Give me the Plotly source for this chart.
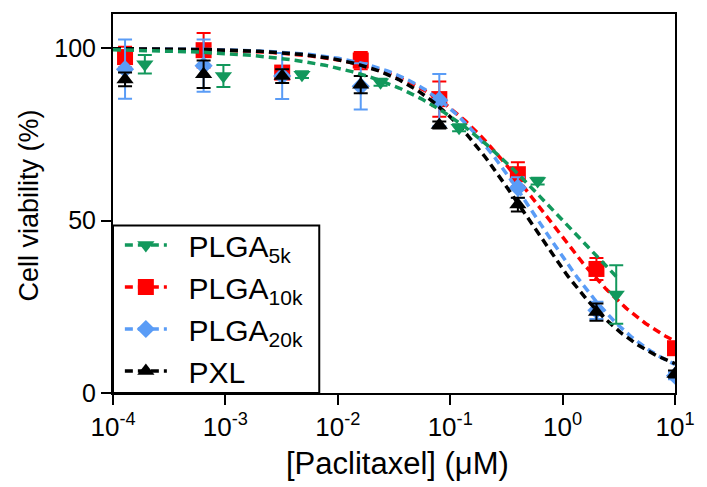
import numpy as np
import plotly.graph_objects as go

# Concentrations (uM): 5-fold serial dilutions
conc = [0.000128, 0.00064, 0.0032, 0.016, 0.08, 0.4, 2, 10]
conc_5k = [0.000192, 0.00096, 0.0048, 0.024, 0.12, 0.6, 3]

# Mean cell viability (%) and SD
viab_5k = [95.4, 92.0, 92.4, 90.2, 77.0, 61.5, 28.6]
sd_5k = [2.7, 3.2, 1.0, 1.0, 1.0, 1.0, 8.5]
viab_10k = [97.5, 99.5, 93.0, 96.5, 85.3, 63.5, 36.0, 13.0]
sd_10k = [3.0, 5.0, 1.5, 2.5, 5.1, 3.5, 3.2, 1.0]
viab_20k = [94.0, 95.0, 92.0, 89.0, 85.0, 59.6, 24.0, 5.0]
sd_20k = [8.6, 7.6, 6.7, 6.7, 7.6, 3.0, 2.5, 1.0]
viab_pxl = [91.0, 92.5, 92.0, 89.5, 77.8, 54.7, 23.5, 5.5]
sd_pxl = [2.0, 4.0, 2.0, 2.5, 1.0, 2.0, 2.5, 1.0]

# Four-parameter logistic fit parameters: top, bottom, IC50 (uM), Hill slope
fit_top = [100, 100, 100, 100]
fit_bottom = [0, 5, 0, 2]
fit_ic50 = [1.0, 0.67, 0.61, 0.483]
fit_hill = [0.61, 0.79, 0.86, 0.87]
fit_xmax = [3, 10, 10, 10]

names = ["PLGA<sub>5k</sub>", "PLGA<sub>10k</sub>", "PLGA<sub>20k</sub>", "PXL"]
colors = ["#12985c", "#ff0000", "#5a9cf6", "#000000"]
symbols = ["triangle-down", "square", "diamond", "triangle-up"]
sizes = [15, 16, 14, 15]

xs = [conc_5k, conc, conc, conc]
ys = [viab_5k, viab_10k, viab_20k, viab_pxl]
errs = [sd_5k, sd_10k, sd_20k, sd_pxl]

tick_vals = [1e-4, 1e-3, 1e-2, 1e-1, 1e0, 1e1]
tick_text = ["10<sup>-4</sup>", "10<sup>-3</sup>", "10<sup>-2</sup>",
             "10<sup>-1</sup>", "10<sup>0</sup>", "10<sup>1</sup>"]

FONT = "Liberation Sans, Arial, sans-serif"
fig = go.Figure()

# drawing order: 10k, 20k, PXL, 5k (5k on top)
order = [1, 2, 3, 0]
for i in order:
    xc = np.logspace(-4, np.log10(fit_xmax[i]), 300)
    yc = fit_bottom[i] + (fit_top[i] - fit_bottom[i]) / (1 + (xc / fit_ic50[i]) ** fit_hill[i])
    fig.add_trace(go.Scatter(
        x=xc, y=yc, mode="lines", showlegend=False, hoverinfo="skip",
        line=dict(color=colors[i], width=3.5, dash="8px,5px")))
    fig.add_trace(go.Scatter(
        x=xs[i], y=ys[i], mode="markers", showlegend=False,
        marker=dict(symbol=symbols[i], size=sizes[i], color=colors[i], line=dict(width=0)),
        error_y=dict(type="data", array=errs[i], color=colors[i], thickness=2, width=7)))

# legend entries
for i in range(4):
    fig.add_trace(go.Scatter(
        x=[None], y=[None], mode="lines+markers",
        name="\u00a0\u00a0" + names[i], legendrank=i + 1,
        line=dict(color=colors[i], width=3.5, dash="8px,5px"),
        marker=dict(symbol=symbols[i], size=sizes[i], color=colors[i], line=dict(width=0))))

axis_common = dict(showline=True, linecolor="black", linewidth=2, mirror=True,
                   ticks="outside", ticklen=10, tickwidth=2, tickcolor="black",
                   showgrid=False, zeroline=False)

# legend frame
fig.add_shape(type="rect", xref="paper", yref="paper", x0=0, x1=0.367, y0=0, y1=0.4417,
              line=dict(color="black", width=2), fillcolor="white", layer="below")

fig.update_layout(
    width=707, height=487,
    margin=dict(l=113, r=21, t=12, b=94),
    paper_bgcolor="white", plot_bgcolor="white",
    font=dict(family=FONT, color="black"),
    xaxis=dict(type="log", range=[-4, 1], tickvals=tick_vals, ticktext=tick_text,
               tickfont=dict(family=FONT, size=26, color="black"),
               **axis_common),
    yaxis=dict(range=[0, 110], tickvals=[0, 50, 100],
               tickfont=dict(family=FONT, size=25, color="black"),
               **axis_common),
    legend=dict(x=0.0122, y=-0.0105, xanchor="left", yanchor="bottom",
                borderwidth=0, bgcolor="rgba(0,0,0,0)",
                font=dict(family=FONT, size=30, color="black"),
                itemwidth=42, traceorder="normal"),
    annotations=[
        dict(text="[Paclitaxel] (\u03bcM)", xref="paper", yref="paper",
             x=0.5066, y=-0.187, xanchor="center", yanchor="middle", showarrow=False,
             font=dict(family=FONT, size=31, color="black")),
        dict(text="Cell viability (%)", xref="paper", yref="paper", textangle=-90,
             x=-0.150, y=0.494, xanchor="center", yanchor="middle", showarrow=False,
             font=dict(family=FONT, size=27, color="black")),
    ],
)

fig.write_html("out.html")
